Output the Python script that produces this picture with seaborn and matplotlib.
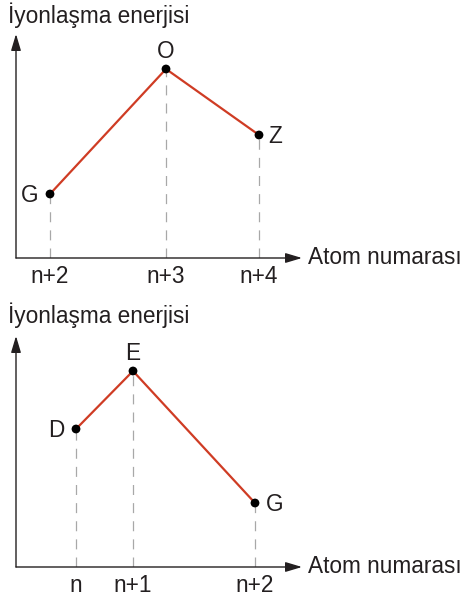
import matplotlib
matplotlib.use("Agg")
import matplotlib.pyplot as plt
import seaborn as sns

# ust grafik: G, O, Z
top_names = ["G", "O", "Z"]
top_ticks = ["n+2", "n+3", "n+4"]
top_x = [3.4, 15.0, 24.3]
top_y = [6.4, 18.9, 12.3]

# alt grafik: D, E, G
bot_names = ["D", "E", "G"]
bot_ticks = ["n", "n+1", "n+2"]
bot_x = [6.0, 11.7, 23.9]
bot_y = [13.8, 19.6, 6.4]

y_title = "İyonlaşma enerjisi"
x_title = "Atom numarası"

sns.set_style("white")
plt.rcParams["font.family"] = ["Liberation Sans", "DejaVu Sans"]

RED = "#cf3c24"
INK = "#231f20"
GRAY = "#a8a8a8"
FS = 16.3

W, H = 461, 596
fig = plt.figure(figsize=(W / 100, H / 100), dpi=100)


def px_axes(x0, y_axis, x_tip, y_tip):
    return fig.add_axes([x0 / W, 1 - y_axis / H, (x_tip - x0) / W, (y_axis - y_tip) / H])


def draw_panel(ax, xs, ys, names, ticks, xlim, ylim, label_offsets):
    ax.set_xlim(0, xlim)
    ax.set_ylim(0, ylim)
    ax.patch.set_alpha(0)
    for s in ax.spines.values():
        s.set_visible(False)

    # kesikli dikey cizgiler
    ax.vlines(xs, 0, ys, colors=GRAY, linewidth=0.9, linestyles=(0, (8, 6.5)), zorder=1)

    sns.lineplot(x=xs, y=ys, sort=False, color=RED, linewidth=1.6, ax=ax, zorder=2)
    sns.scatterplot(x=xs, y=ys, color="black", s=40, edgecolor="none", ax=ax, zorder=3)

    # eksen oklari
    arrow = dict(arrowstyle="-|>,head_length=1.0,head_width=0.3", mutation_scale=10,
                 lw=1.0, color=INK, shrinkA=0, shrinkB=0)
    ax.annotate("", xy=(1, 0), xytext=(0, 0), xycoords="axes fraction", arrowprops=arrow)
    ax.annotate("", xy=(0, 1), xytext=(0, 0), xycoords="axes fraction", arrowprops=arrow)

    ax.set_xticks(xs, ticks)
    ax.set_yticks([])
    ax.tick_params(axis="x", length=0, pad=5, labelsize=FS, colors=INK)
    ax.set_xlabel("")
    ax.set_ylabel("")

    ax.annotate(x_title, xy=(1, 0), xycoords="axes fraction", xytext=(4.3, -4.5),
                textcoords="offset points", ha="left", va="baseline", fontsize=FS, color=INK)

    for x, y, name, (dx, dy, ha) in zip(xs, ys, names, label_offsets):
        ax.annotate(name, xy=(x, y), xytext=(dx, dy), textcoords="offset points",
                    ha=ha, va="baseline", fontsize=FS, color=INK)


ax1 = px_axes(16, 258, 302, 34)
draw_panel(ax1, top_x, top_y, top_names, top_ticks, 28.6, 22.4,
           [(-8, -5.8, "right"), (0, 8, "center"), (6.5, -5.8, "left")])
fig.text(8 / W, 1 - 23 / H, y_title, fontsize=FS, color=INK, va="baseline")

ax2 = px_axes(16, 567, 302, 336)
draw_panel(ax2, bot_x, bot_y, bot_names, bot_ticks, 28.6, 23.1,
           [(-8, -5.8, "right"), (0, 8, "center"), (8, -5.5, "left")])
fig.text(8 / W, 1 - 323 / H, y_title, fontsize=FS, color=INK, va="baseline")

fig.savefig("out.png", dpi=100)
